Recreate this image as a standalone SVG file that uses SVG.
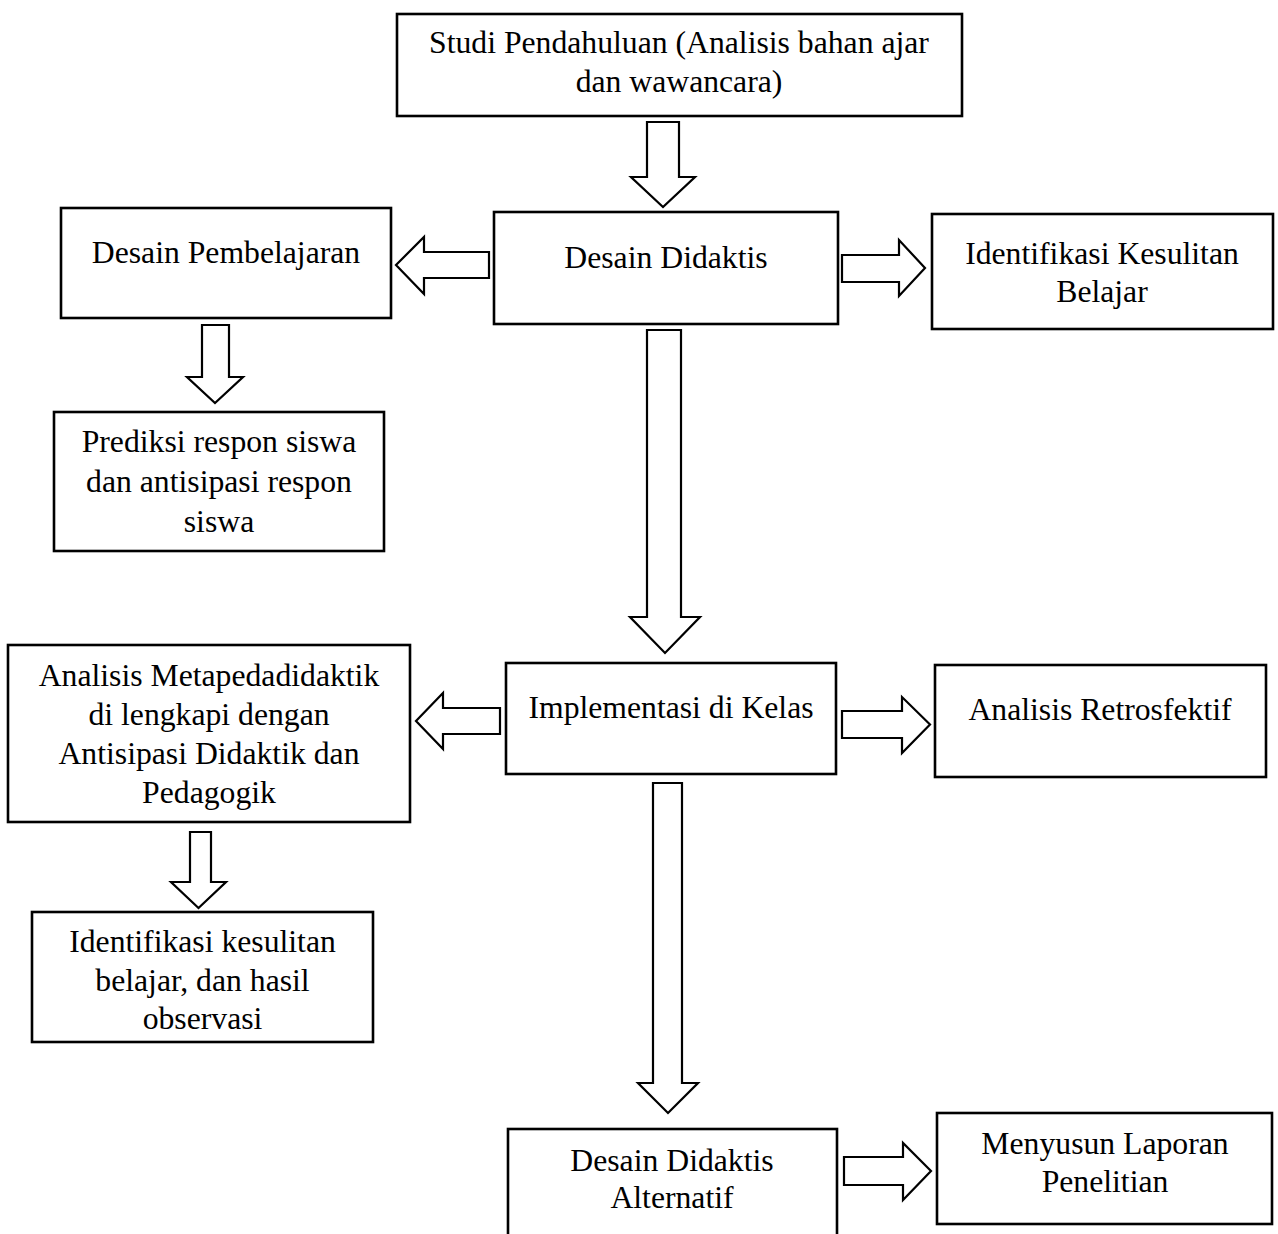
<svg xmlns="http://www.w3.org/2000/svg" width="1278" height="1234" viewBox="0 0 1278 1234">
<style>
.box{fill:#fff;stroke:#000;stroke-width:2.6}
.arr{fill:#fff;stroke:#000;stroke-width:2.2;stroke-linejoin:miter}
text{font-family:"Liberation Serif","Times New Roman",serif;font-size:31.7px;fill:#000;text-anchor:middle}
</style>
<rect width="1278" height="1234" fill="#fff"/>
<g id="connectors">
<polygon class="arr" points="647,122 679,122 679,177 695,177 663,207 631,177 647,177"/>
<polygon class="arr" points="489,252 489,278 424,278 424,294 396,265 424,237 424,252"/>
<polygon class="arr" points="842,255 899,255 899,240 925,268 899,296 899,282 842,282"/>
<polygon class="arr" points="202,325 229,325 229,377 243,377 215,403 187,377 202,377"/>
<polygon class="arr" points="647,330 681,330 681,617 700,617 665,653 630,617 647,617"/>
<polygon class="arr" points="500,708 500,734 443,734 443,749 416,721 443,693 443,708"/>
<polygon class="arr" points="842,711 902,711 902,697 930,724.5 902,753 902,738 842,738"/>
<polygon class="arr" points="190,832 211,832 211,882 226,882 198.5,908 171,882 190,882"/>
<polygon class="arr" points="653,783 682,783 682,1083 698,1083 668,1113 638,1083 653,1083"/>
<polygon class="arr" points="844,1157 903,1157 903,1143 931,1171 903,1200 903,1185 844,1185"/>
</g>
<g id="studi">
<rect class="box" x="397" y="14" width="565" height="102"/>
<text x="679" y="53">Studi Pendahuluan (Analisis bahan ajar</text>
<text x="679" y="92">dan wawancara)</text>
</g>
<g id="desain-didaktis">
<rect class="box" x="494" y="212" width="344" height="112"/>
<text x="666" y="268">Desain Didaktis</text>
</g>
<g id="identifikasi-kesulitan-belajar">
<rect class="box" x="932" y="214" width="341" height="115"/>
<text x="1102" y="264">Identifikasi Kesulitan</text>
<text x="1102" y="302">Belajar</text>
</g>
<g id="desain-pembelajaran">
<rect class="box" x="61" y="208" width="330" height="110"/>
<text x="226" y="263">Desain Pembelajaran</text>
</g>
<g id="prediksi">
<rect class="box" x="54" y="412" width="330" height="139"/>
<text x="219" y="452">Prediksi respon siswa</text>
<text x="219" y="492">dan antisipasi respon</text>
<text x="219" y="532">siswa</text>
</g>
<g id="implementasi">
<rect class="box" x="506" y="663" width="330" height="111"/>
<text x="671" y="718">Implementasi di Kelas</text>
</g>
<g id="retrosfektif">
<rect class="box" x="935" y="665" width="331" height="112"/>
<text x="1100" y="720">Analisis Retrosfektif</text>
</g>
<g id="metapedadidaktik">
<rect class="box" x="8" y="645" width="402" height="177"/>
<text x="209" y="686">Analisis Metapedadidaktik</text>
<text x="209" y="725">di lengkapi dengan</text>
<text x="209" y="764">Antisipasi Didaktik dan</text>
<text x="209" y="803">Pedagogik</text>
</g>
<g id="identifikasi-kesulitan-observasi">
<rect class="box" x="32" y="912" width="341" height="130"/>
<text x="202.5" y="952">Identifikasi kesulitan</text>
<text x="202.5" y="991">belajar, dan hasil</text>
<text x="202.5" y="1029">observasi</text>
</g>
<g id="desain-didaktis-alternatif">
<rect class="box" x="508" y="1129" width="329" height="200"/>
<text x="672" y="1171">Desain Didaktis</text>
<text x="672" y="1208">Alternatif</text>
</g>
<g id="laporan">
<rect class="box" x="937" y="1113" width="335" height="111"/>
<text x="1105" y="1154">Menyusun Laporan</text>
<text x="1105" y="1192">Penelitian</text>
</g>
</svg>
